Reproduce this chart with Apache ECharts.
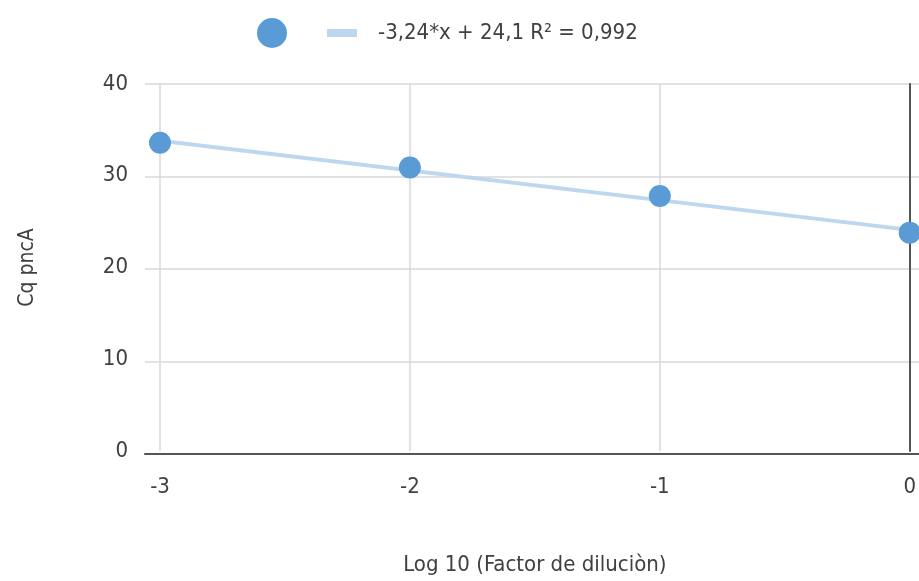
<!DOCTYPE html>
<html>
<head>
<meta charset="utf-8">
<script src="https://cdn.jsdelivr.net/npm/echarts@6/dist/echarts.min.js"></script>
<style>
  html, body { margin: 0; padding: 0; background: #fff; }
  #chart { width: 919px; height: 581px; }
</style>
</head>
<body>
<div id="chart"></div>
<script>
// Cq vs log10 dilution (standard curve)
const xValues = [-3, -2, -1, 0];
const cqValues = [33.6, 30.9, 27.8, 23.8];
// trend line ends
const trendX = [-3.06, 0];
const trendY = [34.0, 24.1];
const trendLabel = '-3,24*x + 24,1 R\u00b2 = 0,992';
const xTicks = [-3, -2, -1, 0];
const yTicks = [0, 10, 20, 30, 40];

const FONT = '"Liberation Sans Narrow", "DejaVu Sans Condensed", sans-serif';
const textColor = '#404040';
const gridColor = '#d9d9d9';
const axisColor = '#555555';

const chart = echarts.init(document.getElementById('chart'), null, { renderer: 'canvas' });

chart.setOption({
    backgroundColor: '#ffffff',
    animation: false,
    textStyle: { fontFamily: FONT },
    legend: [
        {
            data: [{ name: 'Cq', icon: 'circle' }],
            left: 252, top: 13,
            itemWidth: 30, itemHeight: 30,
            formatter: () => '',
            selectedMode: false
        },
        {
            data: [{ name: trendLabel, icon: 'rect' }],
            left: 322, top: 17,
            itemWidth: 30, itemHeight: 8,
            textStyle: { fontFamily: FONT, fontSize: 22, color: textColor, padding: [0, 0, 0, 16] },
            selectedMode: false
        }
    ],
    grid: [
        // background: horizontal gridlines and x axis line, a bit wider than the plot
        { left: 145, right: -20, top: 84, bottom: 127 },
        // plot
        { left: 160, right: 7, top: 84, bottom: 127 }
    ],
    xAxis: [
        {
            gridIndex: 0, type: 'value', min: 0, max: 1, z: 3,
            axisLine: { show: true, onZero: false, lineStyle: { color: axisColor, width: 2 } },
            axisTick: { show: false }, axisLabel: { show: false }, splitLine: { show: false }
        },
        {
            gridIndex: 1, type: 'value', min: xTicks[0], max: xTicks[xTicks.length - 1], interval: 1,
            axisLine: { show: false },
            axisTick: { show: false },
            axisLabel: { color: textColor, fontSize: 22, margin: 25, fontFamily: FONT },
            splitLine: { show: true, lineStyle: { color: gridColor, width: 1.5 } },
            name: 'Log 10 (Factor de diluciòn)',
            nameLocation: 'middle', nameGap: 103,
            nameTextStyle: { color: textColor, fontSize: 22, fontFamily: FONT }
        }
    ],
    yAxis: [
        {
            gridIndex: 0, type: 'value', min: yTicks[0], max: yTicks[yTicks.length - 1], interval: 10,
            axisLine: { show: false }, axisTick: { show: false }, axisLabel: { show: false },
            splitLine: { show: true, lineStyle: { color: gridColor, width: 1.5 } }
        },
        {
            gridIndex: 1, type: 'value', min: yTicks[0], max: yTicks[yTicks.length - 1], interval: 10,
            position: 'left',
            axisLine: { show: false }, axisTick: { show: false },
            axisLabel: { color: textColor, fontSize: 22, margin: 32, fontFamily: FONT },
            splitLine: { show: false },
            name: 'Cq pncA', nameLocation: 'middle', nameGap: 122,
            nameTextStyle: { color: textColor, fontSize: 21, fontFamily: FONT }
        },
        {
            // y axis crosses at x = 0, drawn on the right edge
            gridIndex: 1, type: 'value', min: 0, max: 40, position: 'right', z: 3,
            axisLine: { show: true, lineStyle: { color: axisColor, width: 2 } },
            axisTick: { show: false }, axisLabel: { show: false }, splitLine: { show: false }
        }
    ],
    series: [
        {
            name: trendLabel,
            type: 'line',
            xAxisIndex: 1, yAxisIndex: 1,
            data: trendX.map((x, i) => [x, trendY[i]]),
            showSymbol: false, symbol: 'none',
            clip: false,
            lineStyle: { color: '#bdd7ee', width: 4 },
            itemStyle: { color: '#bdd7ee' },
            z: 2
        },
        {
            name: 'Cq',
            type: 'scatter',
            xAxisIndex: 1, yAxisIndex: 1,
            data: xValues.map((x, i) => [x, cqValues[i]]),
            symbol: 'circle', symbolSize: 22,
            clip: false,
            itemStyle: { color: '#5b9bd5', opacity: 1 },
            z: 4
        }
    ]
});
</script>
</body>
</html>
